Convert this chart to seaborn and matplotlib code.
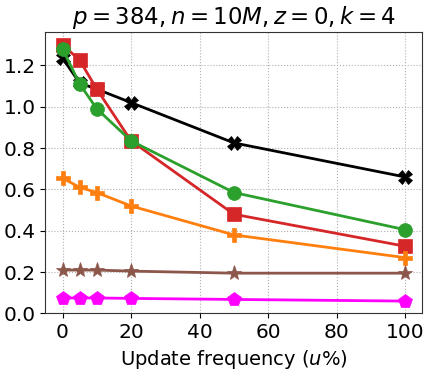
import matplotlib
matplotlib.use("Agg")
import matplotlib.pyplot as plt
import seaborn as sns
import pandas as pd

x_vals = [0, 5, 10, 20, 50, 100]
black_vals = [1.235, 1.115, 1.085, 1.02, 0.825, 0.66]
red_vals = [1.30, 1.225, 1.085, 0.835, 0.48, 0.325]
green_vals = [1.28, 1.11, 0.99, 0.835, 0.585, 0.405]
orange_vals = [0.655, 0.61, 0.585, 0.52, 0.38, 0.27]
brown_vals = [0.21, 0.21, 0.21, 0.205, 0.195, 0.195]
magenta_vals = [0.075, 0.075, 0.075, 0.073, 0.068, 0.06]

series = [
    ("black", black_vals, "black", "X"),
    ("red", red_vals, "#d62728", "s"),
    ("green", green_vals, "#2ca02c", "o"),
    ("orange", orange_vals, "#ff7f0e", "P"),
    ("brown", brown_vals, "#8c564b", "*"),
    ("magenta", magenta_vals, "#ff00ff", "p"),
]

sns.set_style("ticks")
plt.rcParams["font.family"] = ["DejaVu Sans"]
plt.rcParams["text.color"] = "black"
plt.rcParams["axes.labelcolor"] = "black"
plt.rcParams["xtick.color"] = "black"
plt.rcParams["ytick.color"] = "black"
fig, ax = plt.subplots(figsize=(4.32, 3.71), dpi=100)

for name, vals, color, marker in series:
    df = pd.DataFrame({"x": x_vals, "y": vals})
    sns.lineplot(data=df, x="x", y="y", ax=ax, color=color, marker=marker,
                 markersize=10 if marker != "*" else 11, linewidth=2,
                 markeredgewidth=0.5, markeredgecolor=color)

ax.set_xlim(-5, 105)
ax.set_ylim(0, 1.36)
ax.set_yticks([0.0, 0.2, 0.4, 0.6, 0.8, 1.0, 1.2])
ax.set_xticks([0, 20, 40, 60, 80, 100])
ax.grid(True, linestyle=":", color="#b0b0b0", linewidth=0.8)
ax.tick_params(labelsize=14.5, colors="black")
ax.set_xlabel("Update frequency ($u$%)", fontsize=14, color="black")
ax.set_ylabel("")
ax.set_title("$p=384, n=10M, z=0, k=4$", fontsize=16.5, color="black")
for s in ax.spines.values():
    s.set_color("#333333")
fig.subplots_adjust(left=0.105, right=0.978, top=0.913, bottom=0.155)
fig.savefig("out.png", dpi=100)
